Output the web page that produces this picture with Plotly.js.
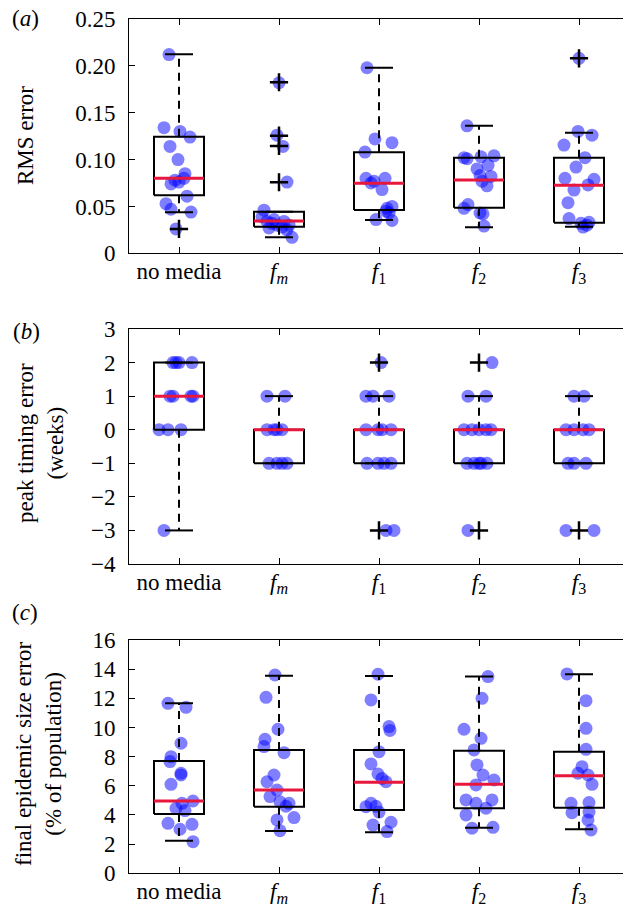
<!DOCTYPE html>
<html>
<head>
<meta charset="utf-8">
<script src="https://cdn.plot.ly/plotly-3.0.1.min.js"></script>
<style>
html,body{margin:0;padding:0;overflow:hidden;background:#fff;}
#chart{width:629px;height:908px;}
</style>
</head>
<body>
<div id="chart"></div>
<script>
// ---------- categories & tick labels ----------
const categories = ['no media', 'f_m', 'f_1', 'f_2', 'f_3'];
const tickLabels = ['no media', '<i>f</i><sub><i>m</i></sub>', '<i>f</i><sub>1</sub>', '<i>f</i><sub>2</sub>', '<i>f</i><sub>3</sub>'];

// ---------- (a) RMS error ----------
const rmsPoints = [
  [0.212, 0.134, 0.130, 0.124, 0.114, 0.100, 0.085, 0.080, 0.078, 0.074, 0.076, 0.061, 0.053, 0.047, 0.044, 0.026],
  [0.182, 0.126, 0.114, 0.076, 0.046, 0.039, 0.036, 0.034, 0.032, 0.030, 0.028, 0.027, 0.025, 0.030, 0.034, 0.017],
  [0.198, 0.122, 0.118, 0.108, 0.080, 0.075, 0.080, 0.068, 0.048, 0.050, 0.043, 0.036, 0.035, 0.045, 0.077],
  [0.136, 0.102, 0.103, 0.104, 0.090, 0.094, 0.082, 0.077, 0.072, 0.083, 0.052, 0.048, 0.043, 0.042, 0.029, 0.101],
  [0.208, 0.130, 0.126, 0.1155, 0.102, 0.092, 0.080, 0.079, 0.073, 0.0675, 0.054, 0.037, 0.028, 0.033, 0.030, 0.032]
];
const rmsJitter = [
  [-0.10, -0.15, 0.01, 0.11, -0.09, -0.01, 0.06, 0.05, -0.04, -0.08, 0.00, 0.08, -0.13, -0.08, 0.12, -0.03],
  [0.00, -0.02, 0.04, 0.08, -0.15, -0.17, -0.05, -0.12, -0.07, -0.02, 0.03, -0.10, 0.08, 0.10, 0.05, 0.13],
  [-0.12, -0.04, 0.13, -0.14, -0.13, -0.08, 0.06, 0.03, 0.08, 0.13, 0.10, -0.03, 0.13, 0.07, -0.05],
  [-0.12, -0.15, 0.02, 0.15, -0.02, 0.09, 0.12, 0.03, 0.08, 0.01, -0.11, -0.15, 0.01, 0.04, 0.05, -0.12],
  [0.00, -0.01, 0.13, -0.15, 0.06, -0.03, -0.14, 0.15, 0.09, -0.05, -0.11, -0.10, 0.04, 0.10, 0.08, 0.02]
];
const rmsQ1      = [0.062, 0.0284, 0.0462, 0.0487, 0.0327];
const rmsMedian  = [0.080, 0.0345, 0.0747, 0.0782, 0.0725];
const rmsQ3      = [0.1244, 0.0444, 0.1077, 0.102, 0.102];
const rmsLowW    = [0.0437, 0.0171, 0.0355, 0.0277, 0.0284];
const rmsHighW   = [0.2123, 0.0444, 0.198, 0.136, 0.1287];
const rmsOutliers = [[0.026], [0.1825, 0.1255, 0.1146, 0.0758], [], [], [0.208]];
const rmsTickVals = [0, 0.05, 0.10, 0.15, 0.20, 0.25];
const rmsTickText = ['0', '0.05', '0.10', '0.15', '0.20', '0.25'];

// ---------- (b) peak timing error ----------
const peakPoints = [
  [2, 2, 2, 2, 1, 1, 1, 1, 0, 0, 0, -3],
  [1, 1, 0, 0, 0, 0, -1, -1, -1, -1],
  [2, 1, 1, 1, 0, 0, 0, 0, -1, -1, -1, -1, -3, -3],
  [2, 1, 1, 0, 0, 0, 0, 0, -1, -1, -1, -1, -1, -3],
  [1, 1, 0, 0, 0, 0, -1, -1, -1, -3, -3]
];
const peakJitter = [
  [-0.06, -0.03, 0.00, 0.13, -0.09, -0.06, 0.12, 0.14, -0.20, -0.11, 0.02, -0.15],
  [-0.12, 0.06, -0.12, -0.05, -0.02, 0.03, -0.10, -0.02, 0.03, 0.08],
  [0.02, -0.13, -0.06, 0.10, -0.13, -0.01, 0.03, 0.12, -0.12, -0.01, 0.05, 0.12, 0.07, 0.15],
  [0.13, -0.11, 0.07, -0.15, -0.07, 0.00, 0.07, 0.12, -0.12, -0.05, 0.00, 0.02, 0.08, -0.11],
  [-0.05, 0.05, -0.13, -0.05, 0.04, 0.10, -0.11, -0.05, 0.07, -0.13, 0.15]
];
const peakQ1     = [0, -1, -1, -1, -1];
const peakMedian = [1, 0, 0, 0, 0];
const peakQ3     = [2, 0, 0, 0, 0];
const peakLowW   = [-3, -1, -1, -1, -1];
const peakHighW  = [2, 1, 1, 1, 1];
const peakOutliers = [[], [], [2, -3], [2, -3], [-3]];

// ---------- (c) final epidemic size error ----------
const sizePoints = [
  [11.66, 11.38, 8.92, 8.0, 7.66, 6.86, 6.75, 6.10, 4.96, 4.8, 4.46, 4.3, 3.43, 3.36, 3.02, 2.17],
  [13.6, 12.07, 9.88, 9.19, 8.69, 8.27, 6.74, 6.28, 5.71, 5.26, 4.9, 4.8, 4.6, 3.66, 3.82, 2.92],
  [13.65, 11.89, 10.06, 9.8, 8.34, 7.5, 6.81, 6.28, 6.5, 4.8, 4.57, 4.6, 4.2, 3.5, 3.31, 2.86],
  [13.49, 12.0, 9.88, 9.26, 8.46, 7.43, 6.74, 6.4, 6.06, 5.03, 5.03, 4.8, 4.46, 4.0, 3.09, 3.15],
  [13.67, 11.84, 9.94, 8.5, 7.31, 6.86, 6.74, 6.10, 4.8, 4.85, 4.16, 4.2, 3.66, 2.97]
];
const sizeJitter = [
  [-0.11, 0.07, 0.02, -0.08, -0.09, 0.02, 0.02, -0.08, 0.14, 0.03, -0.03, 0.06, -0.11, 0.13, 0.01, 0.14],
  [-0.04, -0.13, -0.01, -0.14, -0.15, 0.05, -0.05, -0.12, -0.02, -0.09, 0.01, 0.10, 0.07, -0.02, 0.15, 0.01],
  [-0.01, -0.08, 0.10, 0.11, 0.00, -0.08, -0.01, 0.07, 0.03, -0.08, -0.13, -0.03, 0.00, 0.12, -0.06, 0.08],
  [0.09, 0.03, -0.15, 0.02, -0.05, -0.02, 0.04, 0.15, -0.03, -0.13, 0.13, -0.03, 0.07, -0.13, -0.07, 0.14],
  [-0.12, 0.07, 0.07, 0.07, 0.03, -0.01, 0.09, 0.13, -0.08, 0.10, -0.07, 0.10, 0.09, 0.12]
];
const sizeQ1     = [4.07, 4.57, 4.34, 4.46, 4.5];
const sizeMedian = [4.96, 5.71, 6.24, 6.10, 6.69];
const sizeQ3     = [7.70, 8.46, 8.46, 8.41, 8.34];
const sizeLowW   = [2.24, 2.90, 2.81, 3.13, 3.02];
const sizeHighW  = [11.66, 13.55, 13.53, 13.49, 13.65];
const sizeOutliers = [[], [], [], [], []];

// ---------- builders ----------
const FONT = 'Liberation Serif';
const FS = 23;
const BOX_HALF = 0.25, CAP_HALF = 0.14;

function panelTraces(points, jitter, q1, med, q3, lowW, highW, outliers, xa, ya) {
  const traces = [];
  const px = [], py = [];
  points.forEach((vals, i) => vals.forEach((v, k) => { px.push(i + 1 + jitter[i][k]); py.push(v); }));
  traces.push({type: 'scatter', mode: 'markers', x: px, y: py, xaxis: xa, yaxis: ya, hoverinfo: 'skip',
    marker: {size: 13, color: 'rgba(0,0,255,0.5)', line: {width: 0}}});
  const bx = [], by = [], wx = [], wy = [], cx = [], cy = [], mx = [], my = [], ox = [], oy = [];
  categories.forEach((c, i) => {
    const p = i + 1;
    bx.push(p - BOX_HALF, p + BOX_HALF, p + BOX_HALF, p - BOX_HALF, p - BOX_HALF, null);
    by.push(q1[i], q1[i], q3[i], q3[i], q1[i], null);
    wx.push(p, p, null, p, p, null);
    wy.push(q3[i], highW[i], null, q1[i], lowW[i], null);
    cx.push(p - CAP_HALF, p + CAP_HALF, null, p - CAP_HALF, p + CAP_HALF, null);
    cy.push(highW[i], highW[i], null, lowW[i], lowW[i], null);
    mx.push(p - BOX_HALF, p + BOX_HALF, null);
    my.push(med[i], med[i], null);
    outliers[i].forEach(v => { ox.push(p); oy.push(v); });
  });
  traces.push({type: 'scatter', mode: 'lines', x: wx, y: wy, xaxis: xa, yaxis: ya, hoverinfo: 'skip',
    line: {color: 'black', width: 2, dash: '8px,6px'}});
  traces.push({type: 'scatter', mode: 'lines', x: cx, y: cy, xaxis: xa, yaxis: ya, hoverinfo: 'skip',
    line: {color: 'black', width: 2}});
  traces.push({type: 'scatter', mode: 'lines', x: bx, y: by, xaxis: xa, yaxis: ya, hoverinfo: 'skip',
    line: {color: 'black', width: 2}});
  traces.push({type: 'scatter', mode: 'lines', x: mx, y: my, xaxis: xa, yaxis: ya, hoverinfo: 'skip',
    line: {color: '#e8173c', width: 3}});
  traces.push({type: 'scatter', mode: 'markers', x: ox, y: oy, xaxis: xa, yaxis: ya, hoverinfo: 'skip',
    marker: {symbol: 'cross-thin', size: 13, color: 'black', line: {color: 'black', width: 2.5}}});
  return traces;
}

const data = [].concat(
  panelTraces(rmsPoints, rmsJitter, rmsQ1, rmsMedian, rmsQ3, rmsLowW, rmsHighW, rmsOutliers, 'x', 'y'),
  panelTraces(peakPoints, peakJitter, peakQ1, peakMedian, peakQ3, peakLowW, peakHighW, peakOutliers, 'x2', 'y2'),
  panelTraces(sizePoints, sizeJitter, sizeQ1, sizeMedian, sizeQ3, sizeLowW, sizeHighW, sizeOutliers, 'x3', 'y3')
);

const H = 908;
function dom(topPx, botPx) { return [1 - botPx / H, 1 - topPx / H]; }

function xAxis(anchor) {
  return {anchor: anchor, domain: [0, 1], range: [0.5, 5.5], tickvals: [1, 2, 3, 4, 5], ticktext: tickLabels,
    ticks: 'inside', ticklen: 6, tickwidth: 1, tickcolor: 'black', showline: true, linecolor: 'black', linewidth: 1,
    mirror: 'ticks', showgrid: false, zeroline: false, fixedrange: true, ticklabelstandoff: -3,
    tickfont: {family: FONT, size: FS, color: 'black'}};
}
function yAxis(anchor, domain, extra) {
  return Object.assign({anchor: anchor, domain: domain,
    ticks: 'inside', ticklen: 6, tickwidth: 1, tickcolor: 'black', showline: true, linecolor: 'black', linewidth: 1,
    mirror: 'ticks', showgrid: false, zeroline: false, fixedrange: true, ticklabelstandoff: 8,
    tickfont: {family: FONT, size: FS, color: 'black'}}, extra);
}

function px2x(p) { return (p - 129) / 500; }
function px2y(p) { return 1 - p / H; }

const annFont = {family: FONT, size: FS, color: 'black'};
const layout = {
  width: 629, height: 908,
  margin: {l: 129, r: 0, t: 0, b: 0},
  paper_bgcolor: 'white', plot_bgcolor: 'white',
  showlegend: false,
  font: {family: FONT, size: FS, color: 'black'},
  xaxis: xAxis('y'),
  xaxis2: xAxis('y2'),
  xaxis3: xAxis('y3'),
  yaxis: yAxis('x', dom(19, 253.3), {range: [0, 0.25], tickvals: rmsTickVals, ticktext: rmsTickText}),
  yaxis2: yAxis('x2', dom(329, 564), {range: [-4, 3], dtick: 1, tick0: 0}),
  yaxis3: yAxis('x3', dom(640, 873.3), {range: [0, 16], dtick: 2, tick0: 0}),
  annotations: [
    {text: '(<i>a</i>)', xref: 'paper', yref: 'paper', x: px2x(25), y: px2y(18), xanchor: 'center', yanchor: 'middle', showarrow: false, font: annFont},
    {text: '(<i>b</i>)', xref: 'paper', yref: 'paper', x: px2x(26), y: px2y(331), xanchor: 'center', yanchor: 'middle', showarrow: false, font: annFont},
    {text: '(<i>c</i>)', xref: 'paper', yref: 'paper', x: px2x(25), y: px2y(612), xanchor: 'center', yanchor: 'middle', showarrow: false, font: annFont},
    {text: 'RMS error', textangle: -90, xref: 'paper', yref: 'paper', x: px2x(25), y: px2y(136), xanchor: 'center', yanchor: 'middle', showarrow: false, font: annFont},
    {text: 'peak timing error<br>(weeks)', textangle: -90, xref: 'paper', yref: 'paper', x: px2x(40), y: px2y(443), xanchor: 'center', yanchor: 'middle', showarrow: false, font: annFont},
    {text: 'final epidemic size error<br>(% of population)', textangle: -90, xref: 'paper', yref: 'paper', x: px2x(38), y: px2y(754), xanchor: 'center', yanchor: 'middle', showarrow: false, font: annFont}
  ]
};

Plotly.newPlot('chart', data, layout, {displayModeBar: false, staticPlot: true});
</script>
</body>
</html>
